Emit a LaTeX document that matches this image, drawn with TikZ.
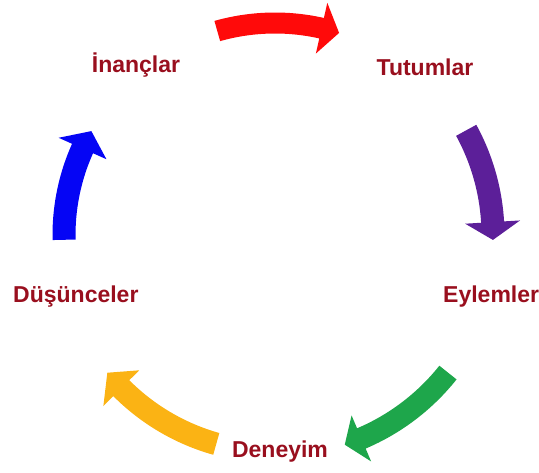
\documentclass[tikz,border=0pt]{standalone}
\usepackage{fontspec}
\setmainfont{Liberation Sans}
\definecolor{labelred}{HTML}{990F1E}
\definecolor{arrowred}{HTML}{FF0A0A}
\definecolor{arrowpurple}{HTML}{5C1F99}
\definecolor{arrowgreen}{HTML}{1EA64B}
\definecolor{arrowyellow}{HTML}{FBB314}
\definecolor{arrowblue}{HTML}{0505F5}
% curved block arrow around the centre (c), running clockwise
% #1 colour, #2 radius, #3 tail angle, #4 head base angle, #5 tip angle,
% #6 body half width, #7 head half width
\newcommand\cyclearrow[7]{%
  \fill[#1, shift={(c)}]
    (#3:{#2+#6}) arc[start angle=#3, end angle=#4, radius={#2+#6}]
    -- (#4:{#2+#7}) -- (#5:#2) -- (#4:{#2-#7})
    -- (#4:{#2-#6}) arc[start angle=#4, end angle=#3, radius={#2-#6}]
    -- cycle;}
\begin{document}
\begin{tikzpicture}[x=1pt, y=1pt,
  lbl/.style={font=\fontsize{23}{27}\selectfont\bfseries, text=labelred, inner sep=0pt}]
\useasboundingbox (0,0) rectangle (539,472);
\coordinate (c) at (275,237);

% arrows of the cycle
\cyclearrow{arrowred}{212}{105.8}{77.3}{72.4}{10.5}{26}
\cyclearrow{arrowpurple}{218}{28.7}{3.4}{-1.3}{11.5}{27.5}
\cyclearrow{arrowgreen}{221}{-38.5}{-67}{-71.6}{11}{25}
\cyclearrow{arrowyellow}{217}{-105.7}{-135.1}{-140.6}{11.3}{25.3}
\cyclearrow{arrowblue}{211}{181.3}{155.8}{150.5}{11.5}{26.2}

% stages
\node[lbl, anchor=base] (inanclar) at (136,399) {İnançlar};
\node[lbl, anchor=base] (tutumlar) at (425,396) {Tutumlar};
\node[lbl, anchor=base west] (eylemler) at (443,169) {Eylemler};
\node[lbl, anchor=base] (deneyim) at (280,14) {Deneyim};
\node[lbl, anchor=base west] (dusunceler) at (13,169) {Düşünceler};
\end{tikzpicture}
\end{document}
